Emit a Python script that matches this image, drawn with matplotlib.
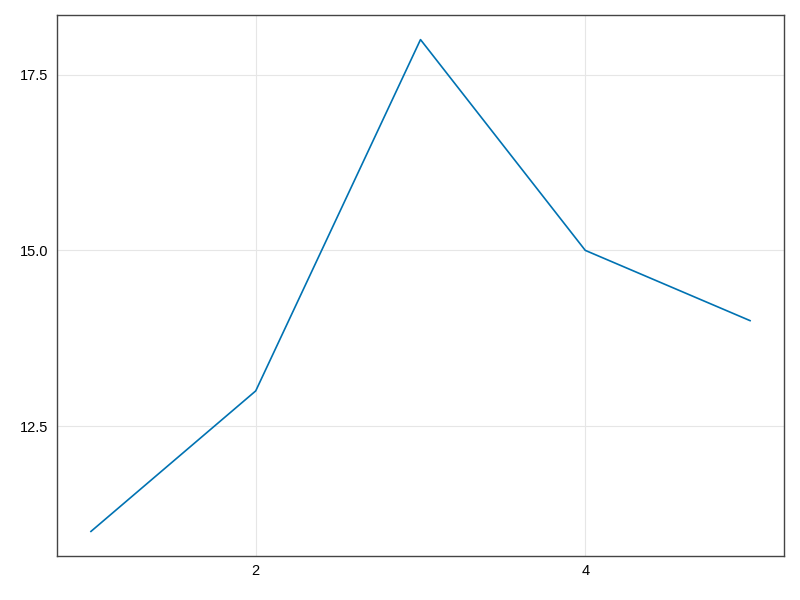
import matplotlib
matplotlib.use('Agg')
import matplotlib.pyplot as plt

x = [1, 2, 3, 4, 5]
y = [11, 13, 18, 15, 14]
xticks = [2, 4]
yticks = [12.5, 15.0, 17.5]

plt.rcParams['font.family'] = ['Liberation Sans', 'DejaVu Sans']

fig = plt.figure(figsize=(8, 6), dpi=100)
ax = fig.add_axes([0.07125, 0.0733, 0.90875, 0.9017])
ax.plot(x, y, color='#0072b2', linewidth=1.2)

ax.set_xlim(0.794, 5.206)
ax.set_ylim(10.65, 18.35)
ax.set_xticks(xticks)
ax.set_yticks(yticks)
ax.set_yticklabels([f'{v:.1f}' for v in yticks])
ax.grid(True, color='#e6e6e6', linewidth=0.8)
ax.set_axisbelow(True)
ax.tick_params(length=0, labelsize=10.5, pad=6, colors='black')
for s in ax.spines.values():
    s.set_color('#444444')
    s.set_linewidth(1.0)

fig.savefig('out.png', dpi=100)
